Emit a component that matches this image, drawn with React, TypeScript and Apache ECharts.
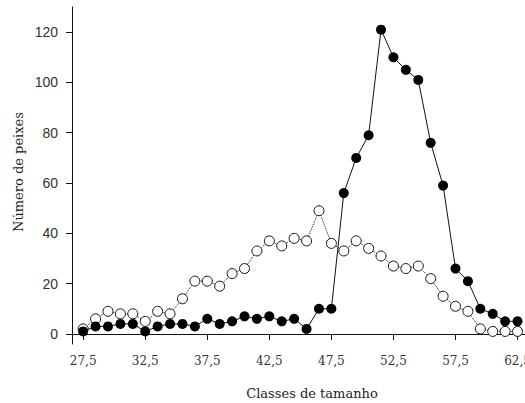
import React, { useEffect, useRef } from "react";
import * as echarts from "echarts";

const classes: number[] = [
  27.5, 28.5, 29.5, 30.5, 31.5, 32.5, 33.5, 34.5, 35.5, 36.5, 37.5, 38.5,
  39.5, 40.5, 41.5, 42.5, 43.5, 44.5, 45.5, 46.5, 47.5, 48.5, 49.5, 50.5,
  51.5, 52.5, 53.5, 54.5, 55.5, 56.5, 57.5, 58.5, 59.5, 60.5, 61.5, 62.5,
];
const filledValues: number[] = [
  1, 3, 3, 4, 4, 1, 3, 4, 4, 3, 6, 4, 5, 7, 6, 7, 5, 6, 2, 10, 10, 56, 70, 79,
  121, 110, 105, 101, 76, 59, 26, 21, 10, 8, 5, 5,
];
const openValues: number[] = [
  2, 6, 9, 8, 8, 5, 9, 8, 14, 21, 21, 19, 24, 26, 33, 37, 35, 38, 37, 49, 36,
  33, 37, 34, 31, 27, 26, 27, 22, 15, 11, 9, 2, 1, 1, 1,
];
const xTicks: number[] = [27.5, 32.5, 37.5, 42.5, 47.5, 52.5, 57.5, 62.5];
const yTicks: number[] = [0, 20, 40, 60, 80, 100, 120];
const xTitle = "Classes de tamanho";
const yTitle = "Número de peixes";

export default function App() {
  const ref = useRef<HTMLDivElement>(null);
  useEffect(() => {
    if (!ref.current) return;
    const chart = echarts.init(ref.current, null, { renderer: "svg" });
    const serif = "DejaVu Serif";
    chart.setOption({
      animation: false,
      backgroundColor: "#ffffff",
      grid: {
        left: 72,
        right: 0,
        top: 7,
        bottom: 59,
        containLabel: false,
        outerBoundsMode: "none",
      },
      graphic: [
        {
          type: "text",
          x: 312,
          y: 393,
          style: {
            text: xTitle,
            fontFamily: serif,
            fontSize: 13,
            fill: "#222",
            align: "center",
            verticalAlign: "middle",
          },
        },
        {
          type: "text",
          x: 18,
          y: 172,
          rotation: Math.PI / 2,
          style: {
            text: yTitle,
            fontFamily: serif,
            fontSize: 13,
            fill: "#222",
            align: "center",
            verticalAlign: "middle",
          },
        },
      ],
      xAxis: {
        type: "value",
        min: 26.6,
        max: 63.1,
        axisLine: { show: true, lineStyle: { color: "#111", width: 1 } },
        axisTick: {
          show: true,
          inside: false,
          length: 6,
          customValues: xTicks,
          lineStyle: { color: "#111" },
        },
        axisLabel: {
          customValues: xTicks,
          formatter: (v: number) => v.toFixed(1).replace(".", ","),
          fontFamily: serif,
          fontSize: 12,
          color: "#333",
          margin: 11,
        },
        splitLine: { show: false },
      },
      yAxis: {
        type: "value",
        min: -4,
        max: 130,
        axisLine: { show: true, lineStyle: { color: "#111", width: 1 } },
        axisTick: {
          show: true,
          inside: false,
          length: 6,
          customValues: yTicks,
          lineStyle: { color: "#111" },
        },
        axisLabel: {
          customValues: yTicks,
          fontFamily: "Liberation Sans",
          fontSize: 14,
          color: "#333",
          margin: 14,
        },
        splitLine: { show: false },
      },
      series: [
        {
          type: "line",
          data: classes.map((c, i) => [c, openValues[i]]),
          symbol: "circle",
          symbolSize: 10,
          itemStyle: { color: "#ffffff", borderColor: "#111", borderWidth: 1 },
          lineStyle: { color: "#111", width: 1, type: "dotted" },
          z: 2,
        },
        {
          type: "line",
          data: classes.map((c, i) => [c, filledValues[i]]),
          symbol: "circle",
          symbolSize: 10,
          itemStyle: { color: "#000000", borderColor: "#000", borderWidth: 0 },
          lineStyle: { color: "#111", width: 1, type: "solid" },
          z: 3,
        },
      ],
    });
    return () => chart.dispose();
  }, []);
  return (
    <div
      ref={ref}
      style={{ position: "fixed", left: 0, top: 0, width: 525, height: 403 }}
    />
  );
}
